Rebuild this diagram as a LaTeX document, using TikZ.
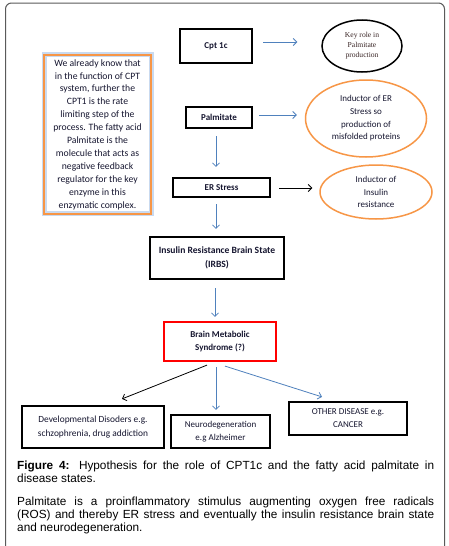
\documentclass[tikz,border=0pt]{standalone}
\usepackage{fontspec}
\setmainfont{Carlito}
\newfontfamily\capfont{Liberation Sans}
\newfontfamily\serfont{Liberation Serif}
\usetikzlibrary{shapes.geometric,arrows.meta,calc}
\definecolor{txt}{HTML}{161630}
\definecolor{ofblue}{HTML}{4F81BD}
\definecolor{oforange}{HTML}{F79646}
\definecolor{glow}{HTML}{C9DAF0}
\definecolor{framegray}{HTML}{5A5A5A}
\begin{document}
\begin{tikzpicture}[x=1pt,y=-1pt,
  stepbox/.style={draw=black, line width=2.2pt, inner sep=0pt, align=center, text=txt,
    font=\fontsize{9.4}{13.5}\selectfont},
  boldbox/.style={stepbox, font=\fontsize{9}{13.5}\selectfont\bfseries},
  bubble/.style={ellipse, draw=oforange, line width=1.5pt, inner sep=0pt, align=center, text=txt,
    font=\fontsize{9}{12.7}\selectfont},
  barrow/.style={draw=ofblue, line width=0.8pt, -{Straight Barb[length=3.5pt,width=7pt]}},
  karrow/.style={draw=black, line width=0.8pt, -{Straight Barb[length=3.5pt,width=7pt]}},
]
\clip (0,0) rectangle (449,546);
\useasboundingbox (0,0) rectangle (449,546);
\fill[white] (0,0) rectangle (449,546);
\draw[framegray, line width=1pt, rounded corners=6pt] (5.5,560) -- (5.5,3) -- (444.5,3) -- (444.5,560);

% left explanatory box
\node[draw=glow, line width=5pt, minimum width=107pt, minimum height=159pt, inner sep=0pt] (glowbox) at (97.5,133.5) {};
\node[draw=oforange, line width=2.5pt, minimum width=107pt, minimum height=159pt, inner sep=0pt,
  align=center, text=txt, font=\fontsize{9.7}{12.9}\selectfont] (leftbox) at (97.5,134.5)
  {We already know that\\in the function of CPT\\system, further the\\CPT1 is the rate\\limiting step of the\\process. The fatty acid\\Palmitate is the\\molecule that acts as\\negative feedback\\regulator for the key\\enzyme in this\\enzymatic complex.};

% main chain
\node[boldbox, minimum width=72pt, minimum height=34pt] (cpt) at (216,46) {Cpt 1c};
\node[ellipse, draw=black, line width=1.5pt, minimum width=80pt, minimum height=52pt, inner sep=0pt,
  align=center, text={rgb,255:red,60;green,40;blue,40}, font=\serfont\fontsize{7.6}{10}\selectfont] (keyrole) at (362,46)
  {Key role in\\Palmitate\\production};

\node[boldbox, minimum width=66pt, minimum height=21pt] (palm) at (219,117.5) {Palmitate};
\node[bubble, minimum width=121pt, minimum height=77pt] (ers) at (366,118.5)
  {Inductor of ER\\Stress so\\production of\\misfolded proteins};

\node[boldbox, minimum width=97pt, minimum height=19pt] (er) at (221.5,187.5) {ER Stress};
\node[bubble, minimum width=112pt, minimum height=54pt] (insr) at (376,192)
  {Inductor of\\Insulin\\resistance};

\node[boldbox, font=\fontsize{9.6}{14}\selectfont\bfseries, minimum width=134pt, minimum height=42pt] (irbs) at (217,258)
  {Insulin Resistance Brain State\\(IRBS)};
\node[boldbox, draw=red, minimum width=112pt, minimum height=39pt] (bms) at (220,341.5)
  {Brain Metabolic\\Syndrome (?)};

\node[stepbox, minimum width=142pt, minimum height=42pt] (dev) at (93,427)
  {Developmental Disoders e.g.\\schzophrenia, drug addiction};
\node[stepbox, font=\fontsize{9}{12.5}\selectfont, minimum width=99pt, minimum height=33pt] (neuro) at (220.5,431.5)
  {Neurodegeneration\\e.g Alzheimer};
\node[stepbox, font=\fontsize{9}{13}\selectfont, minimum width=118pt, minimum height=33pt] (other) at (348,418.5)
  {OTHER DISEASE e.g.\\CANCER};

% connectors
\draw[barrow] ($(cpt.east)+(10,-4)$) -- ($(keyrole.west)+(-24,-4)$);
\draw[barrow] ($(palm.east)+(6,-2.5)$) -- ($(ers.west)+(-8,-3.5)$);
\draw[karrow] ($(er.east)+(8,0.5)$) -- ($(insr.west)+(-7,-4)$);
\draw[barrow] ($(palm.south)+(-3,7)$) -- ($(er.north)+(-5.5,-10)$);
\draw[barrow] ($(er.south)+(-5.5,6)$) -- ($(irbs.north)+(-1,-7)$);
\draw[barrow] ($(irbs.south)+(-2,8)$) -- ($(bms.north)+(-5,-4)$);
\draw[karrow] ($(bms.south)+(-13,3)$) -- ($(dev.north)+(29,-6)$);
\draw[barrow] ($(bms.south)+(-4,5)$) -- ($(neuro.north)+(-4.5,-4)$);
\draw[barrow] ($(bms.south)+(5,4)$) -- ($(other.north)+(-26,-4)$);

% caption
\node[anchor=base west, inner sep=0pt, text=black] (caption) at (17,469)
  {\parbox[t]{417pt}{\capfont\fontsize{11.8}{13.3}\selectfont\emergencystretch=20pt
  \textbf{Figure 4:} Hypothesis for the role of CPT1c and the fatty acid palmitate in\linebreak disease states.\par
  \vspace{9.6pt}
  Palmitate is a proinflammatory stimulus augmenting oxygen free radicals\linebreak (ROS) and thereby ER stress and eventually the insulin resistance brain state\linebreak and neurodegeneration.}};
\end{tikzpicture}
\end{document}
